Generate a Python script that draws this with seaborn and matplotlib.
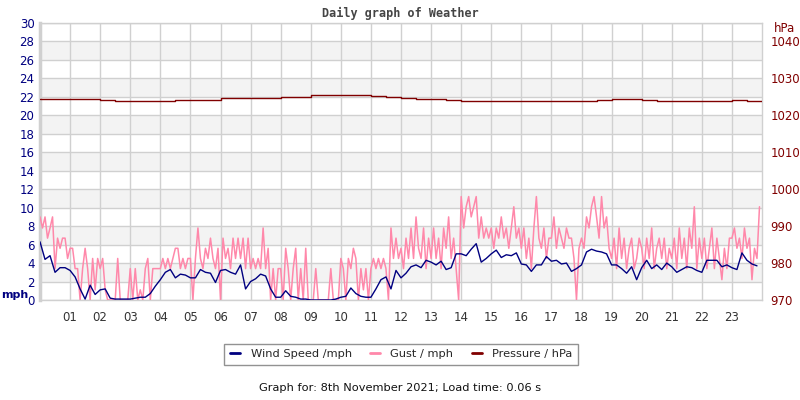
import numpy as np
import pandas as pd
import matplotlib
matplotlib.use("Agg")
import matplotlib.pyplot as plt
import seaborn as sns

# wind speed (mph), one row per hour, 10 minute readings
wind_rows = [
    [6.3, 4.4, 4.8, 3.0, 3.5, 3.5],
    [3.2, 2.5, 1.2, 0.1, 1.6, 0.6],
    [1.1, 1.2, 0.2, 0.1, 0.1, 0.1],
    [0.1, 0.2, 0.3, 0.3, 0.7, 1.5],
    [2.2, 3.0, 3.3, 2.4, 2.8, 2.7],
    [2.4, 2.4, 3.3, 3.0, 2.9, 1.9],
    [3.2, 3.3, 3.0, 2.8, 3.8, 1.2],
    [2.0, 2.3, 2.8, 2.6, 1.2, 0.3],
    [0.3, 1.0, 0.4, 0.3, 0.1, 0.1],
    [0.0, 0.0, 0.0, 0.0, 0.0, 0.1],
    [0.3, 0.4, 1.3, 0.7, 0.4, 0.3],
    [0.3, 1.2, 2.2, 2.5, 1.2, 3.2],
    [2.4, 2.9, 3.6, 3.8, 3.5, 4.3],
    [4.1, 3.8, 4.2, 3.3, 3.5, 5.0],
    [5.0, 4.8, 5.5, 6.1, 4.1, 4.5],
    [5.0, 5.4, 4.6, 4.9, 4.8, 5.1],
    [3.9, 3.8, 3.1, 3.8, 3.8, 4.7],
    [4.2, 4.3, 3.9, 4.0, 3.1, 3.4],
    [3.8, 5.2, 5.5, 5.3, 5.2, 5.0],
    [3.8, 3.8, 3.4, 2.9, 3.6, 2.2],
    [3.5, 4.3, 3.4, 3.8, 3.3, 4.0],
    [3.6, 3.0, 3.3, 3.6, 3.5, 3.2],
    [3.0, 4.3, 4.3, 4.3, 3.6, 3.8],
    [3.5, 3.3, 5.1, 4.3, 3.9, 3.7],
]

# gust (mph), one row per hour, 5 minute readings
gust_rows = [
    [9.0, 7.8, 9.0, 6.7, 7.8, 9.0, 3.4, 6.7, 5.6, 6.7, 6.7, 4.5],
    [5.6, 5.6, 3.4, 3.4, 0.0, 3.4, 5.6, 3.4, 0.0, 4.5, 1.1, 4.5],
    [3.4, 4.5, 1.1, 0.0, 0.0, 0.0, 0.0, 4.5, 0.0, 0.0, 0.0, 0.0],
    [3.4, 0.0, 3.4, 0.0, 1.1, 0.0, 3.4, 4.5, 0.0, 3.4, 3.4, 3.4],
    [3.4, 4.5, 3.4, 4.5, 3.4, 4.5, 5.6, 5.6, 3.4, 4.5, 3.4, 4.5],
    [4.5, 0.0, 4.5, 7.8, 4.5, 3.4, 5.6, 4.5, 6.7, 4.5, 3.4, 5.6],
    [0.0, 6.7, 4.5, 5.6, 3.4, 6.7, 4.5, 6.7, 4.5, 6.7, 3.4, 6.7],
    [3.4, 4.5, 3.4, 4.5, 3.4, 7.8, 3.4, 5.6, 0.0, 3.4, 0.0, 3.4],
    [3.4, 0.0, 5.6, 3.4, 0.0, 3.4, 5.6, 0.0, 3.4, 0.0, 5.6, 0.0],
    [0.0, 0.0, 3.4, 0.0, 0.0, 0.0, 0.0, 0.0, 3.4, 0.0, 0.0, 0.0],
    [4.5, 3.4, 0.0, 4.5, 3.4, 5.6, 4.5, 0.0, 3.4, 1.1, 3.4, 0.0],
    [3.4, 4.5, 3.4, 4.5, 3.4, 4.5, 3.4, 0.0, 7.8, 4.5, 6.7, 4.5],
    [5.6, 3.4, 6.7, 4.5, 7.8, 4.5, 9.0, 5.6, 4.5, 7.8, 3.4, 6.7],
    [4.5, 7.8, 4.5, 6.7, 3.4, 7.8, 5.6, 9.0, 4.5, 6.7, 3.4, 0.0],
    [11.2, 7.8, 10.1, 11.2, 9.0, 10.1, 11.2, 6.7, 9.0, 6.7, 7.8, 6.7],
    [7.8, 5.6, 7.8, 6.7, 9.0, 6.7, 7.8, 5.6, 7.8, 10.1, 6.7, 7.8],
    [5.6, 7.8, 4.5, 6.7, 3.4, 7.8, 11.2, 6.7, 5.6, 7.8, 4.5, 6.7],
    [6.7, 9.0, 5.6, 7.8, 6.7, 5.6, 7.8, 6.7, 6.7, 4.5, 0.0, 5.6],
    [6.7, 5.6, 9.0, 7.8, 10.1, 11.2, 9.0, 6.7, 11.2, 7.8, 9.0, 5.6],
    [4.5, 6.7, 3.4, 7.8, 4.5, 6.7, 3.4, 5.6, 6.7, 3.4, 4.5, 6.7],
    [5.6, 3.4, 6.7, 4.5, 7.8, 3.4, 5.6, 6.7, 4.5, 6.7, 3.4, 5.6],
    [4.5, 6.7, 3.4, 7.8, 4.5, 6.7, 3.4, 7.8, 5.6, 10.1, 3.4, 6.7],
    [4.5, 6.7, 3.4, 5.6, 7.8, 3.4, 6.7, 4.5, 2.2, 5.6, 3.4, 6.7],
    [6.7, 7.8, 5.6, 6.7, 4.5, 7.8, 5.6, 6.7, 2.2, 5.6, 4.5, 10.1],
]

# pressure (hPa), half hourly
pressure = [
    1024.3, 1024.3, 1024.3, 1024.3, 1024.2, 1023.9, 1023.9, 1023.9,
    1023.9, 1024.1, 1024.1, 1024.2, 1024.6, 1024.6, 1024.8, 1024.8,
    1025.0, 1025.0, 1025.4, 1025.4, 1025.4, 1025.4, 1025.2, 1025.0,
    1024.6, 1024.4, 1024.4, 1024.2, 1023.9, 1023.9, 1023.9, 1023.9,
    1023.9, 1023.9, 1023.9, 1023.9, 1023.9, 1024.1, 1024.3, 1024.3,
    1024.2, 1023.9, 1023.9, 1023.9, 1024.0, 1024.0, 1024.1, 1024.0,
    1024.0,
]

hour_labels = ["%02d" % h for h in range(1, 24)]
mph_ticks = list(range(0, 31, 2))
hpa_ticks = list(range(970, 1041, 10))

NAVY = "#000080"
PINK = "#ff88aa"
DARKRED = "#800000"
GRID = "#d0d0d0"


def main():
    wind = np.ravel(wind_rows)
    gust = np.ravel(gust_rows)
    df_wind = pd.DataFrame({"hour": np.arange(len(wind)) / 6.0, "val": wind})
    df_gust = pd.DataFrame({"hour": np.arange(len(gust)) / 12.0, "val": gust})
    df_pres = pd.DataFrame({"hour": np.arange(len(pressure)) / 2.0, "val": pressure})

    sns.set_style("white")
    plt.rcParams["font.family"] = ["DejaVu Sans"]

    fig = plt.figure(figsize=(8, 4), dpi=100)
    ax = fig.add_axes([0.05, 0.25, 0.9025, 0.6925])

    # alternating bands
    for lo in range(2, 28, 4):
        ax.axhspan(lo, lo + 2, color="#f3f3f3", zorder=0, lw=0)
    for y in mph_ticks:
        ax.axhline(y, color=GRID, lw=1, zorder=1)
    for h in range(1, 24):
        ax.axvline(h, color=GRID, lw=1, zorder=1)

    sns.lineplot(data=df_gust, x="hour", y="val", ax=ax, color=PINK, lw=1.1,
                 estimator=None, label="Gust / mph", zorder=3)
    sns.lineplot(data=df_wind, x="hour", y="val", ax=ax, color=NAVY, lw=1,
                 estimator=None, label="Wind Speed /mph", zorder=4)

    ax.set_xlim(0, 24)
    ax.set_ylim(0, 30)
    ax.set_yticks(mph_ticks)
    ax.set_xticks(range(1, 24))
    ax.set_xticklabels(hour_labels)
    ax.tick_params(axis="y", length=0, labelsize=8.5, labelcolor=NAVY, pad=4)
    ax.tick_params(axis="x", length=0, labelsize=8.5, labelcolor="#333333", pad=8)
    ax.set_xlabel("")
    ax.set_ylabel("")
    for side, sp in ax.spines.items():
        sp.set_color(GRID)
        sp.set_linewidth(1)
    ax.spines["left"].set_linewidth(2.5)
    ax.get_legend().remove()

    ax2 = ax.twinx()
    sns.lineplot(data=df_pres, x="hour", y="val", ax=ax2, color=DARKRED, lw=1,
                 estimator=None, drawstyle="steps-post", label="Pressure / hPa")
    ax2.set_ylim(970, 1045)
    ax2.set_xlim(0, 24)
    ax2.set_yticks(hpa_ticks)
    ax2.tick_params(axis="y", length=0, labelsize=8.5, labelcolor=DARKRED, pad=6)
    ax2.set_ylabel("")
    for sp in ax2.spines.values():
        sp.set_visible(False)
    ax2.get_legend().remove()

    fig.text(0.967, 0.928, "hPa", color=DARKRED, fontsize=8.5, ha="left", va="center")
    fig.text(0.001, 0.262, "mph", color=NAVY, fontsize=8, weight="bold",
             ha="left", va="center")
    fig.text(0.5, 0.967, "Daily graph of Weather", family="DejaVu Sans Mono",
             weight="bold", color="#444444", fontsize=8.5, ha="center", va="center")
    fig.text(0.5, 0.03, "Graph for: 8th November 2021; Load time: 0.06 s",
             color="#111111", fontsize=8.2, ha="center", va="center")

    h1, l1 = ax.get_legend_handles_labels()
    h2, l2 = ax2.get_legend_handles_labels()
    handles = [h1[1], h1[0], h2[0]]
    labels = [l1[1], l1[0], l2[0]]
    leg = fig.legend(handles, labels, loc="center", bbox_to_anchor=(0.5015, 0.114),
                     ncol=3, fontsize=8.2, frameon=True, fancybox=False,
                     edgecolor="#777777", handlelength=0.9, handletextpad=0.9,
                     columnspacing=1.6, borderpad=0.5)
    leg.get_frame().set_linewidth(1)
    for line in leg.get_lines():
        line.set_linewidth(2)

    fig.savefig("out.png", dpi=100)


if __name__ == "__main__":
    main()
